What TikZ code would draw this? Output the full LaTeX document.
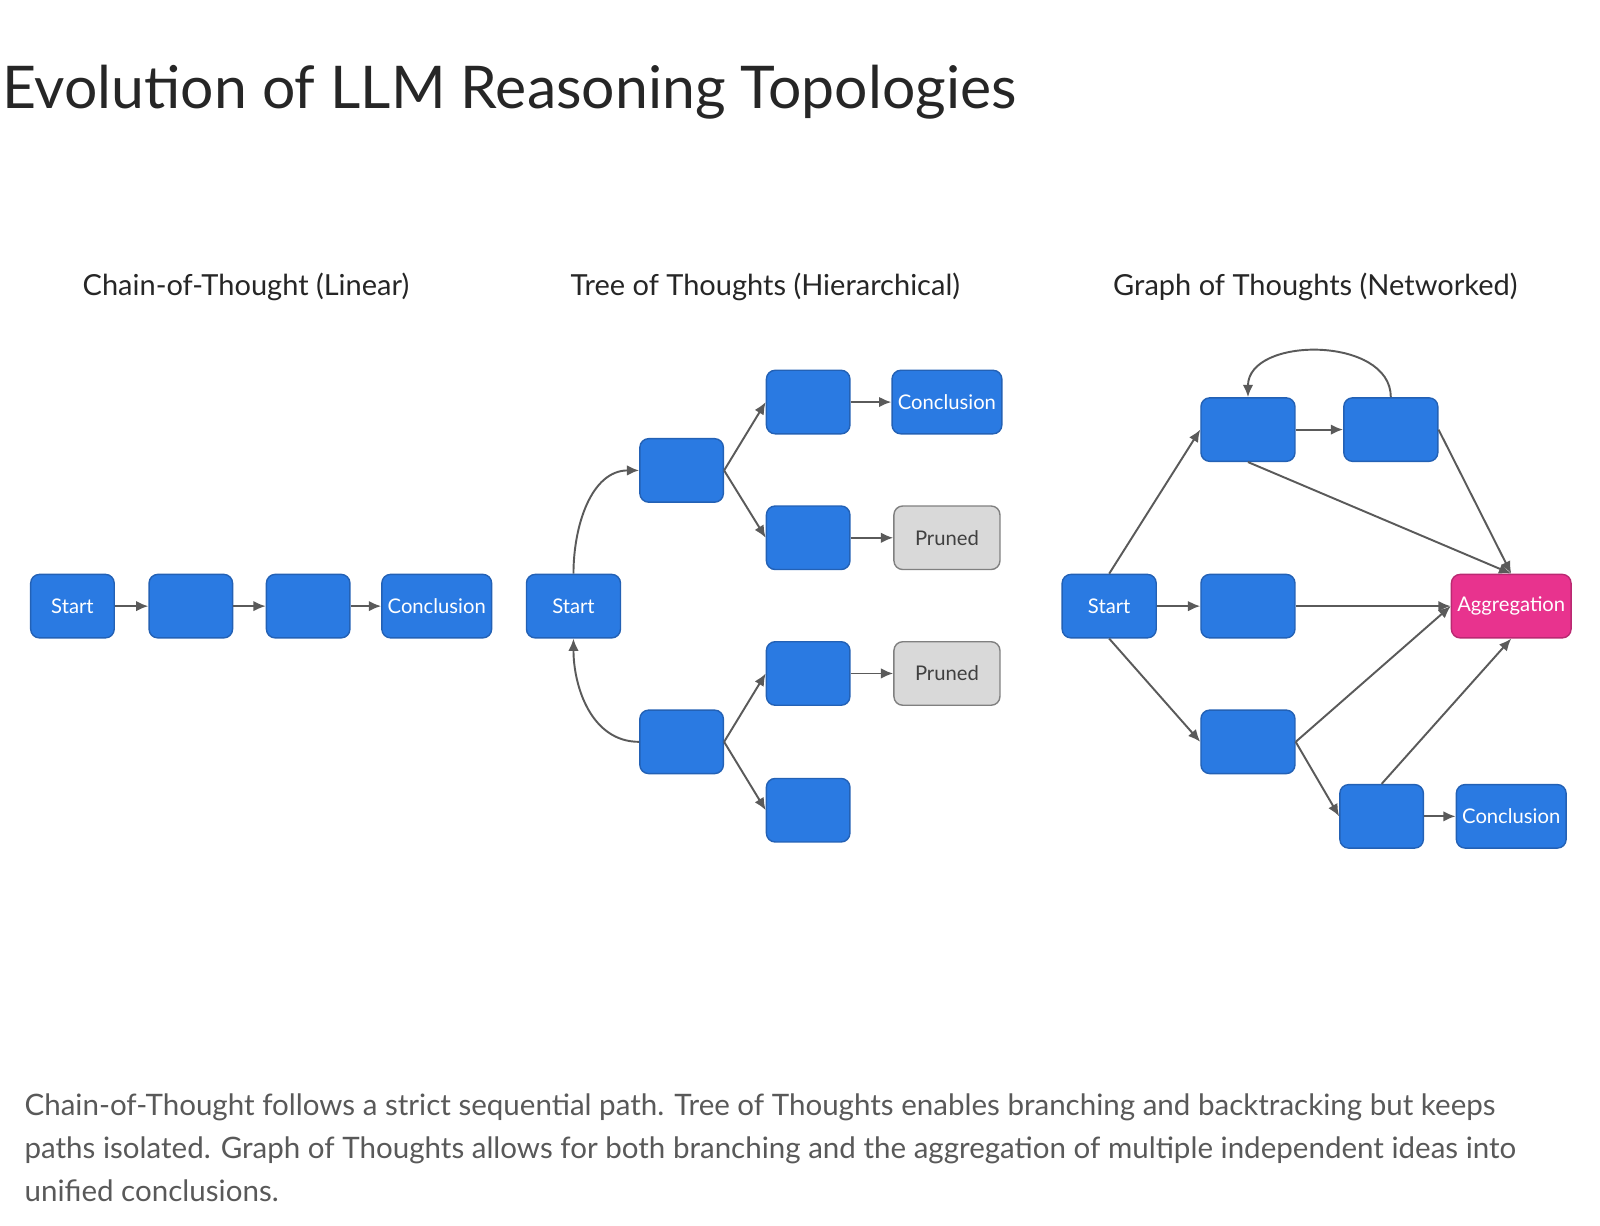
\documentclass[tikz,border=0pt]{standalone}
\usepackage{fontspec}
\setmainfont{Lato}
\usetikzlibrary{arrows.meta}
\definecolor{stepblue}{HTML}{2A7AE2}
\definecolor{stepedge}{HTML}{2361B5}
\definecolor{prunegray}{HTML}{D9D9D9}
\definecolor{aggpink}{HTML}{E8338E}
\definecolor{linkgray}{HTML}{5A5A5A}
\tikzset{
  thought/.style={draw=stepedge, fill=stepblue, rounded corners=5pt, line width=0.8pt,
    minimum width=1.67cm, minimum height=1.27cm, text=white, font=\fontsize{11.5}{12}\selectfont},
  wide/.style={thought, minimum width=2.12cm},
  pruned/.style={thought, draw=gray, fill=prunegray, text=black!75, minimum width=2.12cm},
  agg/.style={thought, draw=aggpink!80!black, fill=aggpink, minimum width=2.28cm},
  link/.style={-{Latex[length=7pt,width=6pt]}, draw=linkgray, line width=1.1pt},
  heading/.style={font=\fontsize{16.5}{18}\selectfont, text=black!85}
}
\begin{document}
\begin{tikzpicture}[x=0.0204cm, y=-0.0204cm]
\useasboundingbox (0,0) rectangle (1568,1201);

\node[anchor=west, font=\fontsize{33.5}{36}\selectfont, text=black!85] (title) at (-4,90) {Evolution of LLM Reasoning Topologies};
\node[heading] (hcot) at (241,281) {Chain-of-Thought (Linear)};
\node[heading] (htot) at (750,281) {Tree of Thoughts (Hierarchical)};
\node[heading] (hgot) at (1289,281) {Graph of Thoughts (Networked)};

% chain
\node[thought] (cs) at (71,594) {Start};
\node[thought] (c1) at (187,594) {};
\node[thought] (c2) at (302,594) {};
\node[wide] (cc) at (428,594) {Conclusion};
\draw[link] (cs) -- (c1);
\draw[link] (c1) -- (c2);
\draw[link] (c2) -- (cc);

% tree
\node[thought, minimum width=1.88cm] (ts) at (562,594) {Start};
\node[thought] (ta) at (668,461) {};
\node[thought] (tb) at (668,727) {};
\node[thought] (ta1) at (792,394) {};
\node[thought] (ta2) at (792,527) {};
\node[thought] (tb1) at (792,660) {};
\node[thought] (tb2) at (792,794) {};
\node[wide] (tc) at (928,394) {Conclusion};
\node[pruned] (tp1) at (928,527) {Pruned};
\node[pruned] (tp2) at (928,660) {Pruned};
\draw[link] (ts.north) to[out=90, in=180] (ta.west);
\draw[link] (tb.west) to[out=180, in=-90] (ts.south);
\draw[link] (ta.east) -- (ta1.west);
\draw[link] (ta.east) -- (ta2.west);
\draw[link] (tb.east) -- (tb1.west);
\draw[link] (tb.east) -- (tb2.west);
\draw[link] (ta1) -- (tc);
\draw[link] (ta2) -- (tp1);
\draw[link] (tb1) -- (tp2);

% graph
\node[thought, minimum width=1.88cm] (gs) at (1087,594) {Start};
\node[thought, minimum width=1.88cm] (g1) at (1223,421) {};
\node[thought, minimum width=1.88cm] (g2) at (1363,421) {};
\node[thought, minimum width=1.88cm] (gm) at (1223,594) {};
\node[thought, minimum width=1.88cm] (gl) at (1223,727) {};
\node[thought] (gl2) at (1354,800) {};
\node[agg] (ga) at (1481,594) {Aggregation};
\node[wide] (gc) at (1481,800) {Conclusion};
\draw[link] (gs.north) -- (g1.west);
\draw[link] (gs) -- (gm);
\draw[link] (gs.south) -- (gl.west);
\draw[link] (g1) -- (g2);
\draw[link] (g2.north) to[out=90, in=90, looseness=1.1] (g1.north);
\draw[link] (g1.south) -- (ga.north);
\draw[link] (g2.east) -- (ga.north);
\draw[link] (gm) -- (ga);
\draw[link] (gl.east) -- (ga.west);
\draw[link] (gl.east) -- (gl2.west);
\draw[link] (gl2.north) -- (ga.south);
\draw[link] (gl2) -- (gc);

\node[anchor=north west, align=left, font=\fontsize{16.8}{24.5}\selectfont, text=black!65] (caption) at (18,1066)
  {Chain-of-Thought follows a strict sequential path. Tree of Thoughts enables branching and backtracking but keeps\\
   paths isolated. Graph of Thoughts allows for both branching and the aggregation of multiple independent ideas into\\
   unified conclusions.};
\end{tikzpicture}
\end{document}
